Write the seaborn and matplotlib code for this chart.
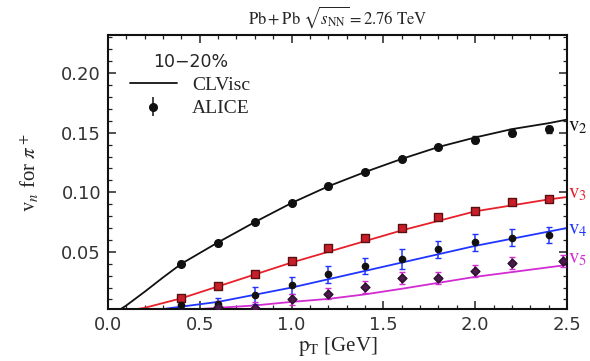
import numpy as np
import pandas as pd
import seaborn as sns
import matplotlib
matplotlib.use("Agg")
import matplotlib.pyplot as plt
from matplotlib.lines import Line2D
from matplotlib.ticker import MultipleLocator
import matplotlib.transforms as mtrans

# ---- model curves (CLVisc) ----
pt_curve = [0.05, 0.1, 0.2, 0.3, 0.4, 0.6, 0.8, 1.0, 1.2, 1.4, 1.6, 1.8, 2.0, 2.2, 2.4, 2.5]
v2_curve = [0.0, 0.005, 0.0165, 0.0285, 0.040, 0.058, 0.075, 0.091, 0.105, 0.117, 0.128, 0.138, 0.146, 0.153, 0.158, 0.161]
v3_curve = [0.0, 0.0005, 0.003, 0.007, 0.011, 0.021, 0.031, 0.041, 0.050, 0.059, 0.068, 0.076, 0.084, 0.089, 0.094, 0.096]
v4_curve = [0.0, 0.0, 0.001, 0.002, 0.004, 0.008, 0.014, 0.020, 0.027, 0.034, 0.041, 0.048, 0.055, 0.061, 0.067, 0.070]
v5_curve = [0.0, 0.0, 0.0, 0.0005, 0.001, 0.003, 0.005, 0.008, 0.0105, 0.0143, 0.019, 0.024, 0.029, 0.033, 0.037, 0.039]

# ---- ALICE data ----
pt_data = [0.4, 0.6, 0.8, 1.0, 1.2, 1.4, 1.6, 1.8, 2.0, 2.2, 2.4]
v2_data = [0.040, 0.057, 0.075, 0.091, 0.105, 0.117, 0.128, 0.138, 0.144, 0.150, 0.153]
v2_err = [0.002, 0.002, 0.002, 0.002, 0.002, 0.002, 0.002, 0.002, 0.003, 0.003, 0.003]
v3_data = [0.0115, 0.021, 0.031, 0.042, 0.053, 0.062, 0.070, 0.079, 0.084, 0.092, 0.094]
v3_err = [0.002, 0.002, 0.002, 0.002, 0.002, 0.002, 0.002, 0.002, 0.002, 0.002, 0.002]
v4_data = [0.005, 0.0065, 0.0135, 0.022, 0.031, 0.038, 0.044, 0.052, 0.058, 0.062, 0.064]
v4_err = [0.004, 0.005, 0.007, 0.007, 0.007, 0.007, 0.008, 0.007, 0.007, 0.007, 0.007]
pt_data5 = [0.6, 0.8, 1.0, 1.2, 1.4, 1.6, 1.8, 2.0, 2.2, 2.48]
v5_data = [0.004, 0.003, 0.010, 0.015, 0.0205, 0.028, 0.028, 0.034, 0.041, 0.0424]
v5_err = [0.005, 0.005, 0.005, 0.005, 0.005, 0.005, 0.005, 0.005, 0.005, 0.005]

harmonics = ["v2", "v3", "v4", "v5"]
line_colors = ["#111111", "#e8202a", "#1f35ff", "#d22bd2"]
marker_face = ["#111111", "#c81e2a", "#111111", "#4a1a4a"]
marker_edge = ["#111111", "#5a1010", "#111111", "#2a102a"]
markers = ["o", "s", "o", "D"]
msize = [5.5, 5.5, 4.5, 4.5]
label_y = [0.156, 0.0995, 0.069, 0.045]

sns.set_style("white")
plt.rcParams["mathtext.fontset"] = "stix"
plt.rcParams["font.family"] = ["DejaVu Sans"]
serif = ["Liberation Serif", "DejaVu Serif"]

fig = plt.figure(figsize=(5.9, 3.61), dpi=100)
ax = fig.add_axes([0.183, 0.144, 0.778, 0.759])

curves = [v2_curve, v3_curve, v4_curve, v5_curve]
curve_df = pd.concat([pd.DataFrame({"pT": pt_curve, "vn": c, "n": h})
                      for c, h in zip(curves, harmonics)])
sns.lineplot(data=curve_df, x="pT", y="vn", hue="n", palette=dict(zip(harmonics, line_colors)),
             ax=ax, legend=False, lw=1.3, zorder=2)

data_sets = [(pt_data, v2_data, v2_err), (pt_data, v3_data, v3_err),
             (pt_data, v4_data, v4_err), (pt_data5, v5_data, v5_err)]
for i, (x, y, e) in enumerate(data_sets):
    ax.errorbar(x, y, yerr=e, fmt="none", ecolor=line_colors[i] if i > 1 else marker_edge[i],
                elinewidth=1.1, capsize=2.5, capthick=1.0, zorder=3)
    sns.scatterplot(x=x, y=y, ax=ax, marker=markers[i], s=msize[i] ** 2,
                    color=marker_face[i], edgecolor=marker_edge[i], linewidth=1.0, zorder=4)

ax.set_xlim(0, 2.5)
ax.set_ylim(0.002, 0.232)
ax.set_yticks([0.05, 0.10, 0.15, 0.20])
ax.set_yticklabels(["0.05", "0.10", "0.15", "0.20"])
ax.set_xticks([0.0, 0.5, 1.0, 1.5, 2.0, 2.5])
ax.set_xticklabels(["0.0", "0.5", "1.0", "1.5", "2.0", "2.5"])
ax.xaxis.set_minor_locator(MultipleLocator(0.1))
ax.yaxis.set_minor_locator(MultipleLocator(0.01))
ax.tick_params(which="both", direction="in", top=True, right=True, bottom=True, left=True,
               labelsize=13, colors="#222222", labelcolor="#333333")
ax.tick_params(which="major", length=6, width=1.1, pad=5)
ax.tick_params(which="minor", length=3, width=0.9)
for sp in ax.spines.values():
    sp.set_linewidth(1.5)
    sp.set_color("#111111")

ax.set_xlabel(r"$\mathrm{p_T}$ [GeV]", fontsize=15, fontfamily=serif, labelpad=1)
ax.set_ylabel(r"$\mathrm{v}_n$ for $\pi^+$", fontsize=15, fontfamily=serif, labelpad=14)
ax.set_title(r"$\mathrm{Pb+Pb}\ \sqrt{s_{\mathrm{NN}}}=2.76\ \mathrm{TeV}$", fontsize=12, pad=8)

trans = mtrans.blended_transform_factory(ax.transAxes, ax.transData)
for i, h in enumerate(harmonics):
    ax.text(1.003, label_y[i], r"$\mathrm{v}_{%s}$" % h[1], transform=trans, fontsize=15,
            color=line_colors[i], ha="left", va="center")

handles = [Line2D([0], [0], color="#111111", lw=1.3),
           ax.errorbar([], [], yerr=[], fmt="o", color="#111111", ms=5.5, capsize=2.5, elinewidth=1.1)]
leg = ax.legend(handles, ["CLVisc", "ALICE"], title="10\u221220%", loc="upper left",
                bbox_to_anchor=(0.01, 1.0), frameon=False, prop={"family": serif, "size": 14},
                title_fontproperties={"family": "DejaVu Sans", "size": 12.5},
                handlelength=2.4, handletextpad=0.8, labelspacing=0.3)

fig.savefig("out.png", dpi=100)
